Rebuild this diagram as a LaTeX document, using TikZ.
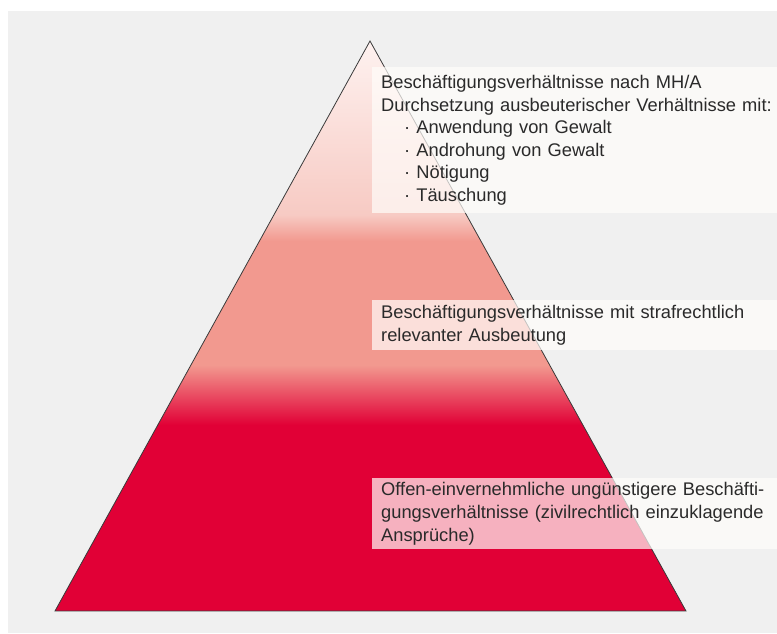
\documentclass[tikz,border=0pt]{standalone}
\usepackage{fontspec}
\setmainfont{Liberation Sans}
\usepackage{xcolor}
\usetikzlibrary{positioning}

\definecolor{bggray}{HTML}{F0F0F0}
\definecolor{pyrred}{HTML}{E10036}
\definecolor{pyrsalmon}{HTML}{F2998F}
\definecolor{pyrrose}{HTML}{F7CAC3}
\definecolor{pyrpale}{HTML}{FEF2F0}
\definecolor{edgegray}{HTML}{3A3A3A}
\definecolor{textgray}{HTML}{2A2A2A}
\definecolor{boxfill}{HTML}{FFFDFA}

\begin{document}
\begin{tikzpicture}[
    x=1pt, y=1pt,
    font=\fontsize{18.3}{22.6}\selectfont,
    edge/.style={draw=edgegray, line width=0.8pt, line join=miter},
    labelbox/.style={anchor=north west, fill=boxfill, fill opacity=0.7, text opacity=1,
        text=textgray, inner xsep=9pt, inner ysep=0pt, text width=412pt, align=left}
]
\useasboundingbox (0,0) rectangle (777,633);
\clip (0,0) rectangle (777,633);
\fill[bggray] (8,0) rectangle (777,622);

\coordinate (apex) at (370,592);
\coordinate (bl) at (55,22);
\coordinate (br) at (686,22);

% colour bands of the pyramid
\begin{scope}
\clip (apex) -- (bl) -- (br) -- cycle;
\fill[pyrred] (0,22) rectangle (777,209);
\shade[top color=pyrsalmon, bottom color=pyrred] (0,208) rectangle (777,268);
\fill[pyrsalmon] (0,267) rectangle (777,393);
\shade[top color=pyrrose, bottom color=pyrsalmon] (0,392) rectangle (777,418);
\shade[top color=pyrpale, bottom color=pyrrose] (0,417) rectangle (777,593);
\end{scope}
\draw[edge] (apex) -- (bl) -- (br) -- cycle;

\node[labelbox, minimum height=146pt] (top) at (372,566) {Beschäftigungsverhältnisse nach MH/A\\
Durchsetzung ausbeuterischer Verhältnisse mit:\\
\hspace*{23pt}· Anwendung von Gewalt\\
\hspace*{23pt}· Androhung von Gewalt\\
\hspace*{23pt}· Nötigung\\
\hspace*{23pt}· Täuschung};
\node[labelbox, minimum height=50pt] (middle) at (372,333) {Beschäftigungsverhältnisse mit strafrechtlich\\
relevanter Ausbeutung};
\node[labelbox, minimum height=71pt] (base) at (372,155) {Offen-einvernehmliche ungünstigere Beschäfti-\\
gungsverhältnisse (zivilrechtlich einzuklagende\\
Ansprüche)};
\end{tikzpicture}
\end{document}
